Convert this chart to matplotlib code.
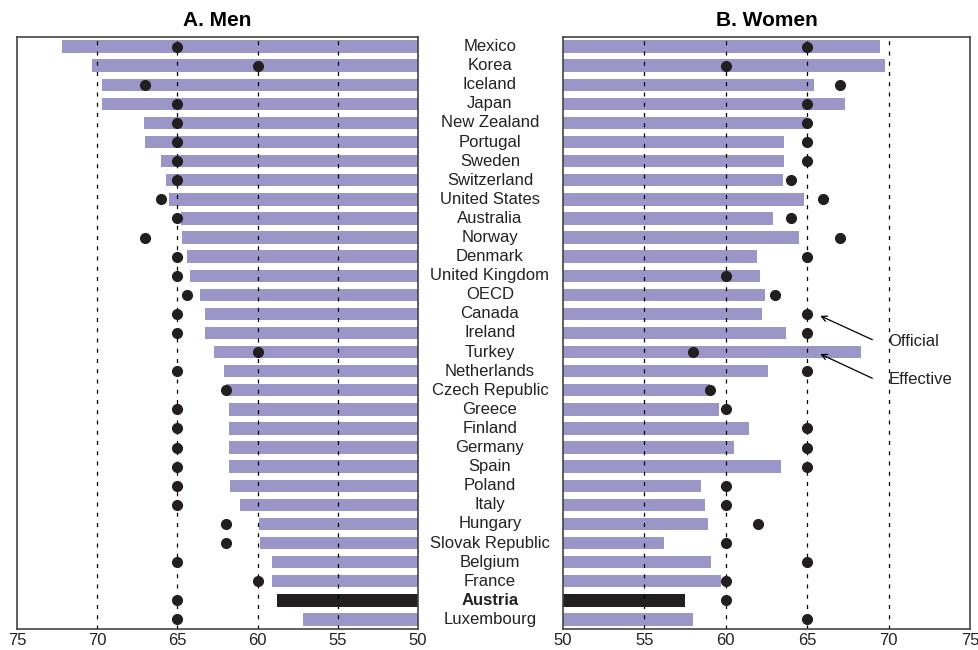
import matplotlib.pyplot as plt
from matplotlib.transforms import blended_transform_factory

plt.rcParams['font.family'] = ['Liberation Sans', 'DejaVu Sans']

countries = ["Mexico", "Korea", "Iceland", "Japan", "New Zealand", "Portugal", "Sweden",
             "Switzerland", "United States", "Australia", "Norway", "Denmark",
             "United Kingdom", "OECD", "Canada", "Ireland", "Turkey", "Netherlands",
             "Czech Republic", "Greece", "Finland", "Germany", "Spain", "Poland", "Italy",
             "Hungary", "Slovak Republic", "Belgium", "France", "Austria", "Luxembourg"]

# effective retirement age (bars) and official age (dots)
men_effective = [72.2, 70.3, 69.7, 69.7, 67.1, 67.0, 66.0, 65.7, 65.5, 64.8, 64.7, 64.4,
                 64.2, 63.6, 63.3, 63.3, 62.7, 62.1, 62.0, 61.8, 61.8, 61.8, 61.8, 61.7,
                 61.1, 59.9, 59.85, 59.1, 59.1, 58.8, 57.2]
men_official = [65, 60, 67, 65, 65, 65, 65, 65, 66, 65, 67, 65, 65, 64.4, 65, 65, 60, 65,
                62, 65, 65, 65, 65, 65, 65, 62, 62, 65, 60, 65, 65]

women_effective = [69.5, 69.8, 65.4, 67.3, 65.0, 63.6, 63.6, 63.5, 64.8, 62.9, 64.5, 61.9,
                   62.1, 62.4, 62.2, 63.7, 68.3, 62.6, 59.0, 59.6, 61.4, 60.5, 63.4, 58.5,
                   58.7, 58.9, 56.2, 59.1, 59.7, 57.5, 58.0]
women_official = [65, 60, 67, 65, 65, 65, 65, 64, 66, 64, 67, 65, 60, 63, 65, 65, 58, 65,
                  59, 60, 65, 65, 65, 60, 60, 62, 60, 65, 60, 60, 65]

highlight = "Austria"
bar_col = '#9b96c8'
dark = '#231f20'

fig = plt.figure(figsize=(9.79, 6.5), dpi=100)
ax1 = fig.add_axes([17/979, 21/650, 401/979, 592/650])
ax2 = fig.add_axes([563/979, 21/650, 407/979, 592/650])

y = list(range(len(countries)))
cols = [dark if c == highlight else bar_col for c in countries]

def draw_panel(ax, eff, off, title):
    ax.barh(y, [e - 50 for e in eff], left=50, height=0.65, color=cols, zorder=1)
    for g in [55, 60, 65, 70]:
        ax.axvline(g, color='black', lw=0.9, ls=(0, (3.2, 5)), zorder=2)
    ax.plot(off, y, 'o', color=dark, ms=7, zorder=3)
    ax.set_ylim(30.5, -0.5)
    ax.set_yticks([])
    ax.set_xticks([50, 55, 60, 65, 70, 75])
    ax.tick_params(axis='x', length=0, labelsize=12, pad=3, colors='#222222')
    for s in ax.spines.values():
        s.set_color('#444444')
        s.set_linewidth(1.2)
    ax.set_title(title, fontsize=15, fontweight='bold', pad=8)

draw_panel(ax1, men_effective, men_official, "A. Men")
ax1.set_xlim(75, 50)
draw_panel(ax2, women_effective, women_official, "B. Women")
ax2.set_xlim(50, 75)

trans = blended_transform_factory(fig.transFigure, ax1.transData)
for i, c in enumerate(countries):
    ax1.text(490/979, i, c, transform=trans, ha='center', va='center', fontsize=12,
             fontweight='bold' if c == highlight else 'normal', color='#222222')

# labels with arrows pointing at a dot and a bar end
ax2.annotate("", xy=(65.8, 14.1), xytext=(69.0, 15.35),
             arrowprops=dict(arrowstyle='->', color='black', lw=0.9, shrinkA=0, shrinkB=0))
ax2.text(70.0, 15.45, "Official", fontsize=12, va='center', ha='left', color='#222222')
ax2.annotate("", xy=(65.8, 16.1), xytext=(69.0, 17.37),
             arrowprops=dict(arrowstyle='->', color='black', lw=0.9, shrinkA=0, shrinkB=0))
ax2.text(70.0, 17.45, "Effective", fontsize=12, va='center', ha='left', color='#222222')

plt.savefig("out.png", dpi=100)
